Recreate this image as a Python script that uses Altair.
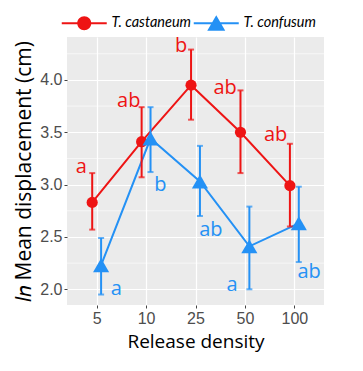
import altair as alt
import pandas as pd

# ---- data ----
density = ["5", "10", "25", "50", "100"]
species = ["T. castaneum", "T. confusum"]

cast_mean = [2.83, 3.41, 3.95, 3.50, 2.99]
cast_upper = [3.11, 3.74, 4.29, 3.90, 3.39]
cast_lower = [2.57, 3.07, 3.62, 3.11, 2.60]

conf_mean = [2.23, 3.44, 3.03, 2.41, 2.63]
conf_upper = [2.49, 3.74, 3.37, 2.79, 2.98]
conf_lower = [1.95, 3.12, 2.70, 2.00, 2.26]

cast_letters = ["a", "ab", "b", "ab", "ab"]
conf_letters = ["a", "b", "ab", "a", "ab"]
# letter anchors in data units (y value, x side shift in category units)
cast_letter_y = [3.17, 3.80, 4.32, 3.92, 3.47]
cast_letter_side = [-0.31, -0.35, -0.29, -0.40, -0.38]
conf_letter_y = [2.00, 3.00, 2.57, 2.04, 2.17]
conf_letter_side = [0.40, 0.29, 0.31, -0.26, 0.30]

y_major = [2.0, 2.5, 3.0, 3.5, 4.0]
y_minor = [2.25, 2.75, 3.25, 3.75, 4.25]

RED = "#EE1414"
BLUE = "#2491F5"
DODGE = 0.09

rows = []
for i, d in enumerate(density):
    rows.append(dict(species=species[0], idx=i + 1, pos=i + 1 - DODGE, mean=cast_mean[i],
                     upper=cast_upper[i], lower=cast_lower[i], letter=cast_letters[i],
                     ly=cast_letter_y[i], lx=i + 1 + cast_letter_side[i]))
for i, d in enumerate(density):
    rows.append(dict(species=species[1], idx=i + 1, pos=i + 1 + DODGE, mean=conf_mean[i],
                     upper=conf_upper[i], lower=conf_lower[i], letter=conf_letters[i],
                     ly=conf_letter_y[i], lx=i + 1 + conf_letter_side[i]))
df = pd.DataFrame(rows)
minor_df = pd.DataFrame({"v": y_minor})

label_expr = "[" + ",".join("'%s'" % d for d in density) + "][datum.value - 1]"

xscale = alt.Scale(domain=[0.4, 5.6], nice=False, zero=False)
yscale = alt.Scale(domain=[1.85, 4.41], nice=False, zero=False)
cscale = alt.Scale(domain=species, range=[RED, BLUE])

x_axis = alt.Axis(values=[1, 2, 3, 4, 5], labelExpr=label_expr, title="Release density",
                  grid=True, gridColor="white", gridWidth=1.2, domain=False,
                  tickSize=3, tickColor="#444444", labelColor="#4D4D4D",
                  labelFont="Liberation Sans", labelFontSize=16, labelPadding=2,
                  titleFont="Open Sans", titleFontSize=19, titleFontWeight="normal",
                  titleColor="black", titlePadding=6)
y_axis = alt.Axis(values=y_major, format=".1f", title="𝑙𝑛 Mean displacement (cm)",
                  grid=True, gridColor="white", gridWidth=1.2, domain=False,
                  tickSize=3, tickColor="#444444", labelColor="#4D4D4D",
                  labelFont="Liberation Sans", labelFontSize=16, labelPadding=2,
                  titleFont="Open Sans", titleFontSize=21, titleFontWeight="normal",
                  titleColor="black", titlePadding=5)

base = alt.Chart(df)
X = alt.X("pos:Q", scale=xscale, axis=x_axis)
Y = alt.Y("mean:Q", scale=yscale, axis=y_axis)
C = alt.Color("species:N", scale=cscale, legend=None)

circle_path = ("M-4.5,-0.2H4.5V0.2H-4.5Z "
               "M-1.4,0A1.4,1.4,0,1,1,1.4,0A1.4,1.4,0,1,1,-1.4,0Z")
tri_path = ("M-4.5,-0.2H4.5V0.2H-4.5Z "
            "M0,-1.6L1.8,1.5L-1.8,1.5Z")


def legend_entry(name, colour, path, lx):
    # layer with no drawn rows that only carries one legend entry
    return base.transform_filter("false").mark_point(filled=True, opacity=1, color=colour).encode(
        x=alt.X("pos:Q", scale=xscale, axis=x_axis), y=alt.Y("mean:Q", scale=yscale, axis=y_axis),
        shape=alt.Shape("species:N", scale=alt.Scale(domain=[name], range=[path]),
                        legend=alt.Legend(
                            title=None, orient="none", direction="horizontal",
                            legendX=lx, legendY=-21, symbolSize=100, symbolOpacity=1,
                            symbolStrokeWidth=0, symbolOffset=39, labelOffset=20,
                            labelFont="Lato", labelFontSize=14.5, labelFontStyle="italic",
                            labelColor="black")),
    )


leg_c = legend_entry(species[0], RED, circle_path, -29)
leg_t = legend_entry(species[1], BLUE, tri_path, 103)

minor = alt.Chart(minor_df).mark_rule(color="white", strokeWidth=0.6).encode(
    y=alt.Y("v:Q", scale=yscale)
)

lines = base.mark_line(strokeWidth=2).encode(x=X, y=Y, color=C, detail="species:N")
err = base.mark_rule(strokeWidth=2).encode(
    x=alt.X("pos:Q", scale=xscale), y=alt.Y("lower:Q", scale=yscale), y2="upper:Q", color=C)
cap_top = base.mark_tick(orient="horizontal", size=6, thickness=2).encode(
    x=alt.X("pos:Q", scale=xscale), y=alt.Y("upper:Q", scale=yscale), color=C)
cap_bot = base.mark_tick(orient="horizontal", size=6, thickness=2).encode(
    x=alt.X("pos:Q", scale=xscale), y=alt.Y("lower:Q", scale=yscale), color=C)

pts_c = base.transform_filter(alt.datum.species == species[0]).mark_point(
    shape="circle", filled=True, opacity=1, size=125).encode(x=X, y=Y, color=C)
pts_t = base.transform_filter(alt.datum.species == species[1]).mark_point(
    shape="triangle-up", filled=True, opacity=1, size=260).encode(x=X, y=Y, color=C)

letters = base.mark_text(font="Open Sans", fontSize=20, align="center", baseline="middle").encode(
    x=alt.X("lx:Q", scale=xscale), y=alt.Y("ly:Q", scale=yscale), text="letter:N", color=C)

chart = alt.layer(leg_c, leg_t, minor, lines, err, cap_top, cap_bot, pts_c, pts_t, letters).resolve_scale(
    shape="independent"
).resolve_legend(
    shape="independent"
).properties(
    width=257, height=268, padding={"left": 5, "top": 8, "right": 5, "bottom": 5}
).configure_view(fill="#EBEBEB", stroke=None)

chart.save("out.html", embed_options={"renderer": "svg", "actions": False})
